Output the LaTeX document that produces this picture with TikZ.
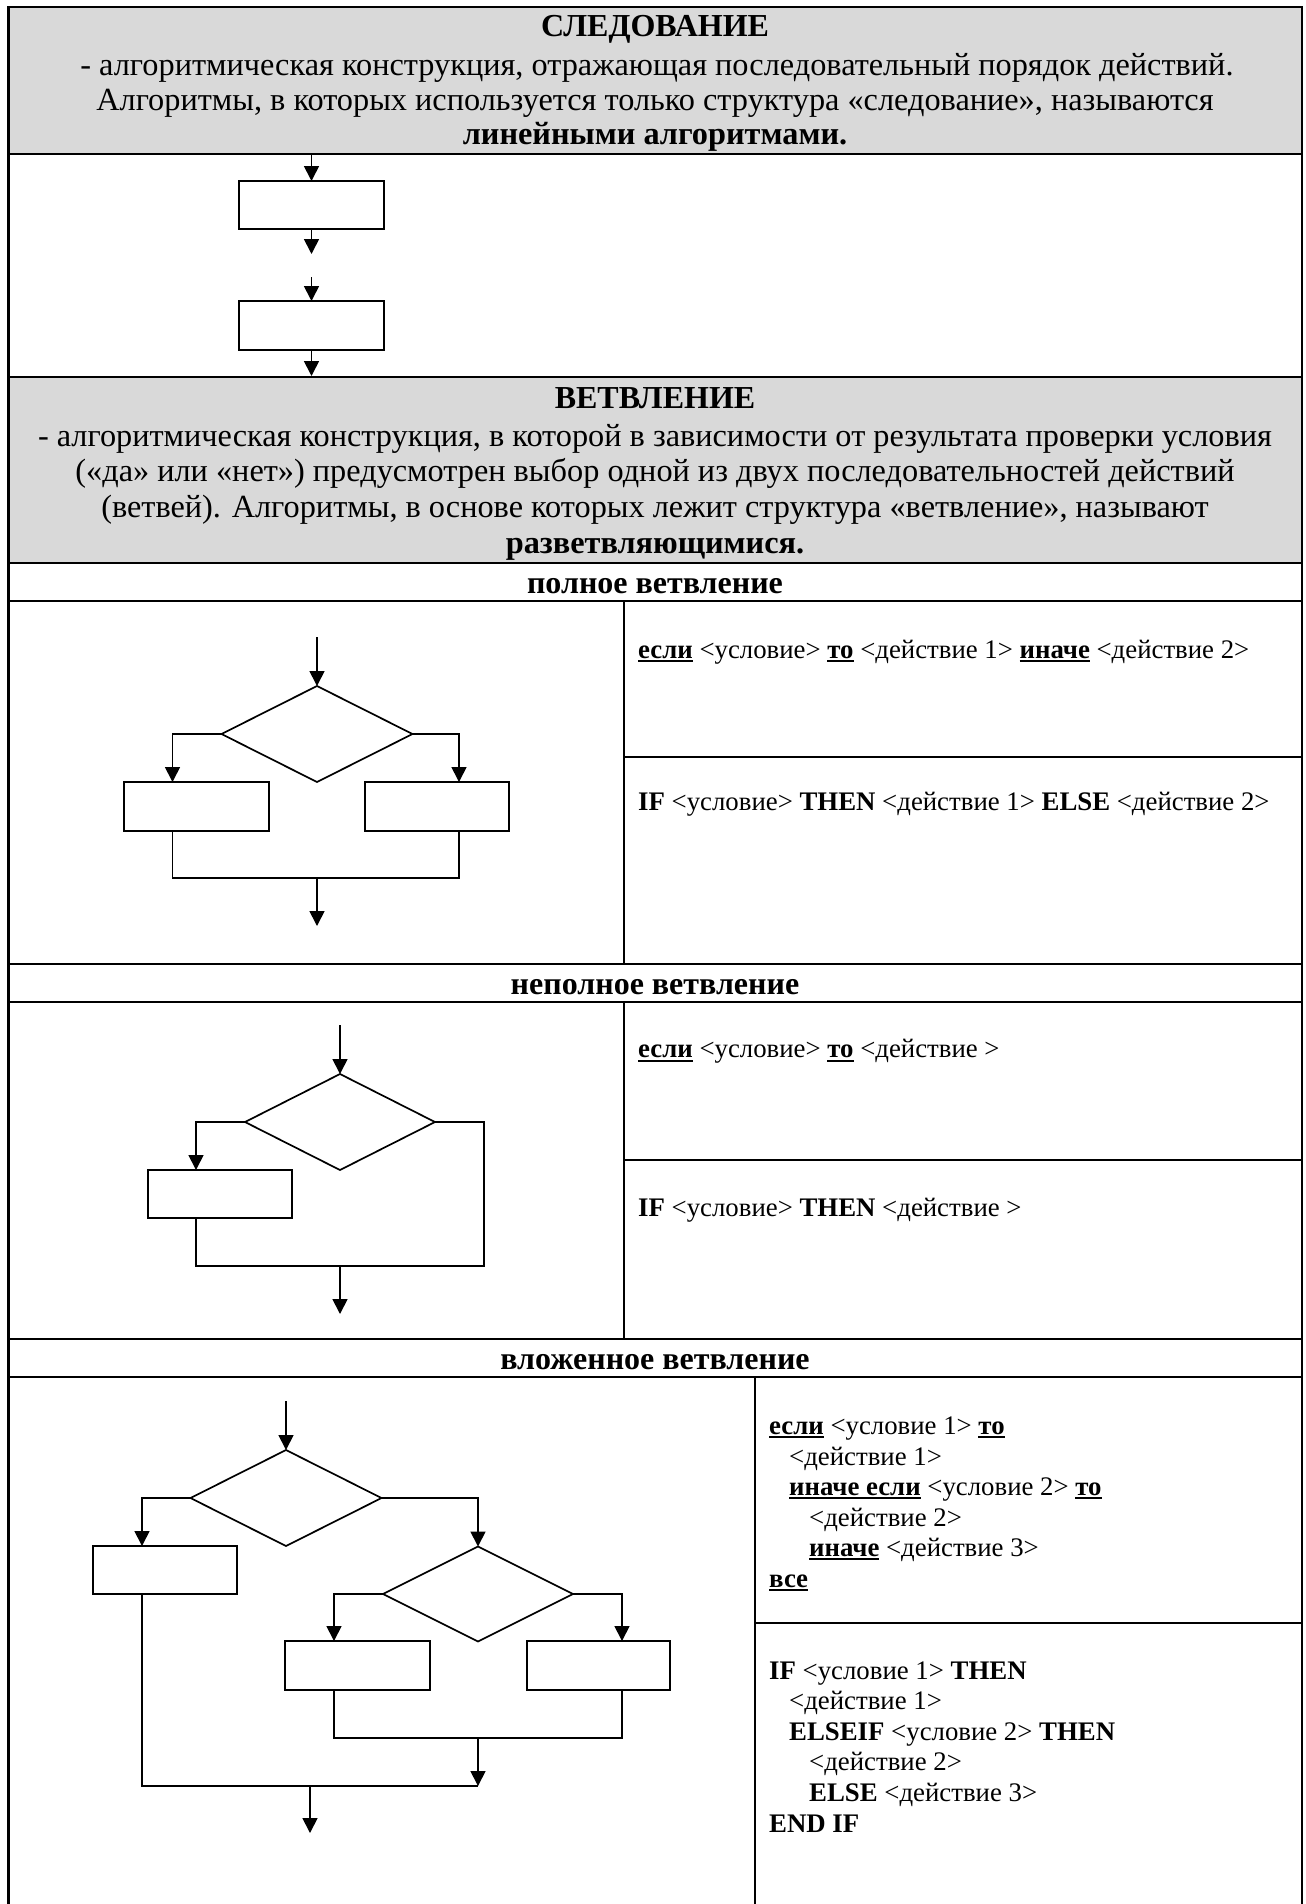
\documentclass[tikz,border=0pt]{standalone}
\usepackage{fontspec}
\setmainfont{Liberation Serif}
\usetikzlibrary{arrows.meta,shapes.geometric}
\newcommand\myul[1]{\setbox0\hbox{#1}\rlap{\rule[-4pt]{\wd0}{2pt}}\box0\relax}
\definecolor{hdrgray}{HTML}{D9D9D9}
\tikzset{
  tbl/.style={line width=2.3pt},
  fl/.style={line width=1.7pt},
  arr/.style={fl,-{Triangle[width=15pt,length=15pt]}},
  blk/.style={draw,fl,rectangle,inner sep=0pt,outer sep=0pt},
  dmd/.style={draw,fl,diamond,inner sep=0pt,outer sep=0pt},
  hdr/.style={anchor=base,inner sep=0pt,font=\fontsize{32.3}{35}\selectfont},
  htitle/.style={anchor=base,inner sep=0pt,font=\fontsize{32}{36}\selectfont\bfseries},
  sect/.style={anchor=base,inner sep=0pt,font=\fontsize{32}{34}\selectfont\bfseries},
  code/.style={anchor=base west,inner sep=0pt,font=\fontsize{26.8}{30.6}\selectfont},
}
\begin{document}
\begin{tikzpicture}[x=1pt,y=-1pt]
\useasboundingbox (0,0) rectangle (1306,1904);
% gray headers
\fill[hdrgray] (8.5,7) rectangle (1302,154);
\fill[hdrgray] (8.5,377) rectangle (1302,563);
% table lines
\draw[tbl] (8.5,1904) -- (8.5,7) -- (1302,7) -- (1302,1904);
\draw[tbl] (8.5,154) -- (1302,154);
\draw[tbl] (8.5,377) -- (1302,377);
\draw[tbl] (8.5,563) -- (1302,563);
\draw[tbl] (8.5,601) -- (1302,601);
\draw[tbl] (8.5,964) -- (1302,964);
\draw[tbl] (8.5,1002) -- (1302,1002);
\draw[tbl] (8.5,1339) -- (1302,1339);
\draw[tbl] (8.5,1377) -- (1302,1377);
\draw[tbl] (624,601) -- (624,964);
\draw[tbl] (624,1002) -- (624,1339);
\draw[tbl] (755,1377) -- (755,1904);
\draw[tbl] (624,757) -- (1302,757);
\draw[tbl] (624,1160) -- (1302,1160);
\draw[tbl] (755,1623) -- (1302,1623);

% header 1
\node[htitle] (t1) at (655,36) {СЛЕДОВАНИЕ};
\node[hdr] (t1a) at (657,75) {- алгоритмическая конструкция, отражающая последовательный порядок действий.};
\node[hdr] (t1b) at (655,110) {Алгоритмы, в которых используется только структура «следование», называются};
\node[hdr,font=\fontsize{32.3}{35}\selectfont\bfseries] (t1c) at (655,144) {линейными алгоритмами.};

% header 2
\node[htitle] (t2) at (655,408) {ВЕТВЛЕНИЕ};
\node[hdr] (t2a) at (655,446) {- алгоритмическая конструкция, в которой в зависимости от результата проверки условия};
\node[hdr] (t2b) at (655,481) {(«да» или «нет») предусмотрен выбор одной из двух последовательностей действий};
\node[hdr] (t2c) at (655,517) {(ветвей). Алгоритмы, в основе которых лежит структура «ветвление», называют};
\node[hdr,font=\fontsize{32.3}{35}\selectfont\bfseries] (t2d) at (655,553) {разветвляющимися.};

% section labels
\node[sect] (s1l) at (655,593) {полное ветвление};
\node[sect] (s2l) at (655,994) {неполное ветвление};
\node[sect] (s3l) at (655,1369.5) {вложенное ветвление};

% code texts
\node[code] (c1) at (638,658) {\myul{\textbf{если}} <условие> \myul{\textbf{то}} <действие 1> \myul{\textbf{иначе}} <действие 2>};
\node[code] (c2) at (638,810) {\textbf{IF} <условие> \textbf{THEN} <действие 1> \textbf{ELSE} <действие 2>};
\node[code] (c3) at (638,1057.5) {\myul{\textbf{если}} <условие> \myul{\textbf{то}} <действие >};
\node[code] (c4) at (638,1216.5) {\textbf{IF} <условие> \textbf{THEN} <действие >};

\node[code] (n1) at (769,1434) {\myul{\textbf{если}} <условие 1> \myul{\textbf{то}}};
\node[code] (n2) at (789,1465) {<действие 1>};
\node[code] (n3) at (789,1495) {\myul{\textbf{иначе если}} <условие 2> \myul{\textbf{то}}};
\node[code] (n4) at (809,1526) {<действие 2>};
\node[code] (n5) at (809,1556) {\myul{\textbf{иначе}} <действие 3>};
\node[code] (n6) at (769,1587) {\myul{\textbf{все}}};

\node[code] (i1) at (769,1679) {\textbf{IF} <условие 1> \textbf{THEN}};
\node[code] (i2) at (789,1709) {<действие 1>};
\node[code] (i3) at (789,1740) {\textbf{ELSEIF} <условие 2> \textbf{THEN}};
\node[code] (i4) at (809,1770) {<действие 2>};
\node[code] (i5) at (809,1801) {\textbf{ELSE} <действие 3>};
\node[code] (i6) at (769,1832) {\textbf{END IF}};

% ---- fig 1: sequence
\node[blk,minimum width=145pt,minimum height=48pt] (b1) at (311.5,205) {};
\node[blk,minimum width=145pt,minimum height=49pt] (b2) at (311.5,325.5) {};
\coordinate (a0) at (311.5,154);
\coordinate (a1) at (311.5,254);
\coordinate (a2) at (311.5,277);
\coordinate (a3) at (311.5,376);
\draw[arr] (a0) -- (b1.north);
\draw[arr] (b1.south) -- (a1);
\draw[arr] (a2) -- (b2.north);
\draw[arr] (b2.south) -- (a3);

% ---- fig 2: full branch
\node[dmd,minimum width=191pt,minimum height=96pt] (d2) at (317,734) {};
\node[blk,minimum width=145pt,minimum height=49pt] (p1) at (196.5,806.5) {};
\node[blk,minimum width=144pt,minimum height=49pt] (p2) at (437,806.5) {};
\coordinate (s3) at (317,637);
\coordinate (j2) at (459,878);
\coordinate (m2) at (317,878);
\coordinate (e2) at (317,926);
\draw[arr] (s3) -- (d2.north);
\draw[arr] (d2.west) -| ([xshift=-24pt]p1.north);
\draw[arr] (d2.east) -| ([xshift=22pt]p2.north);
\draw[fl] ([xshift=-24pt]p1.south) |- (j2) -- ([xshift=22pt]p2.south);
\draw[arr] (m2) -- (e2);

% ---- fig 3: partial branch
\node[dmd,minimum width=190pt,minimum height=96pt] (d3) at (340,1122) {};
\node[blk,minimum width=144pt,minimum height=48pt] (q1) at (220,1194) {};
\coordinate (s4) at (340,1025);
\coordinate (j3) at (484,1266);
\coordinate (m3) at (340,1266);
\coordinate (e3) at (340,1314);
\draw[arr] (s4) -- (d3.north);
\draw[arr] (d3.west) -| ([xshift=-24pt]q1.north);
\draw[fl] (d3.east) -| (j3) -| ([xshift=-24pt]q1.south);
\draw[arr] (m3) -- (e3);

% ---- fig 4: nested branch
\node[dmd,minimum width=191pt,minimum height=96pt] (D1) at (286,1498) {};
\node[dmd,minimum width=190pt,minimum height=95pt] (D2) at (478,1594) {};
\node[blk,minimum width=144pt,minimum height=48pt] (r1) at (165,1570) {};
\node[blk,minimum width=145pt,minimum height=49pt] (r2) at (357.5,1665.5) {};
\node[blk,minimum width=143pt,minimum height=49pt] (r3) at (598.5,1665.5) {};
\coordinate (s5) at (286,1401);
\coordinate (j4) at (622,1738);
\coordinate (m4) at (478,1738);
\coordinate (j5) at (478,1786);
\coordinate (m5) at (310,1786);
\coordinate (e5) at (310,1833);
\draw[arr] (s5) -- (D1.north);
\draw[arr] (D1.west) -| ([xshift=-23pt]r1.north);
\draw[arr] (D1.east) -| (D2.north);
\draw[arr] (D2.west) -| ([xshift=-23.5pt]r2.north);
\draw[arr] (D2.east) -| ([xshift=23.5pt]r3.north);
\draw[fl] ([xshift=-23.5pt]r2.south) |- (j4) -- ([xshift=23.5pt]r3.south);
\draw[arr] (m4) -- (j5);
\draw[fl] ([xshift=-23pt]r1.south) |- (j5);
\draw[arr] (m5) -- (e5);
\end{tikzpicture}
\end{document}
